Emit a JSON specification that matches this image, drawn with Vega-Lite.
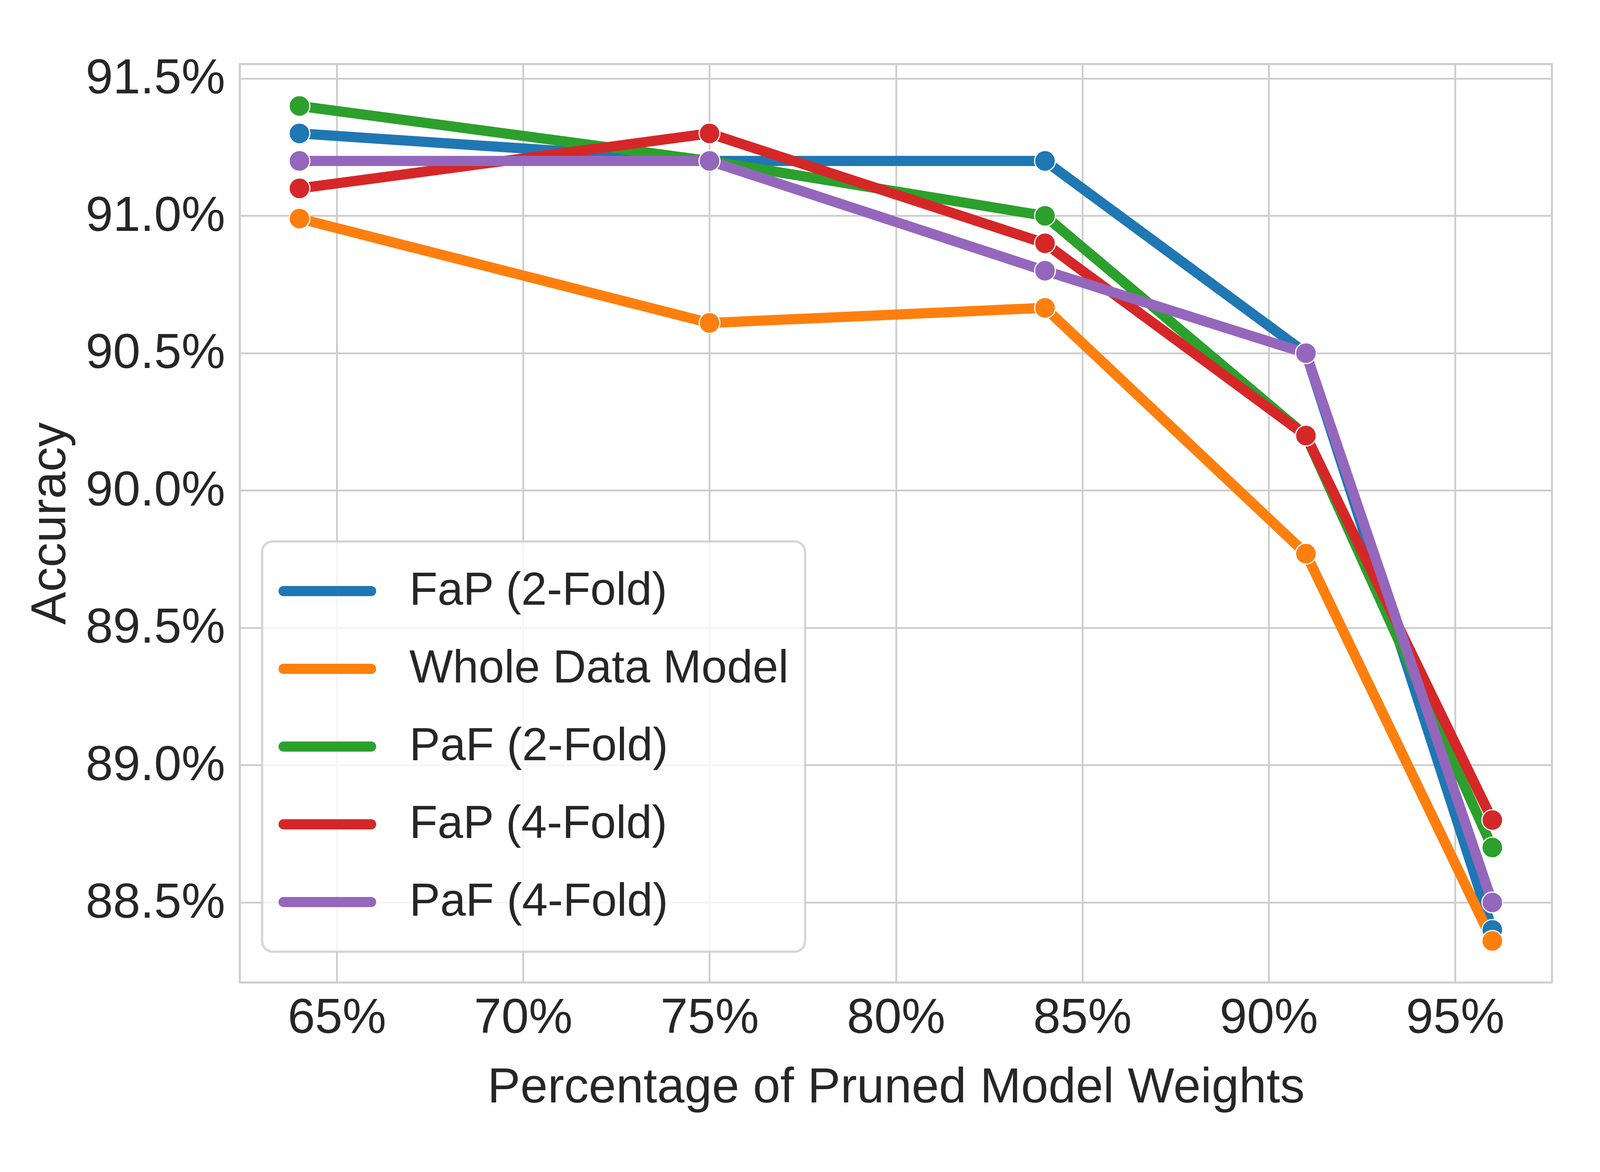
{
  "$schema": "https://vega.github.io/schema/vega-lite/v6.json",
  "width": 3359,
  "height": 2351,
  "autosize": {"type": "none"},
  "padding": {"left": 614, "top": 164, "right": 123, "bottom": 485},
  "background": "white",
  "data": {
    "values": [
      {"pruned": 0.64, "acc": 0.913, "model": "FaP (2-Fold)"},
      {"pruned": 0.75, "acc": 0.912, "model": "FaP (2-Fold)"},
      {"pruned": 0.84, "acc": 0.912, "model": "FaP (2-Fold)"},
      {"pruned": 0.91, "acc": 0.905, "model": "FaP (2-Fold)"},
      {"pruned": 0.96, "acc": 0.884, "model": "FaP (2-Fold)"},
      {"pruned": 0.64, "acc": 0.9099, "model": "Whole Data Model"},
      {"pruned": 0.75, "acc": 0.9061, "model": "Whole Data Model"},
      {"pruned": 0.84, "acc": 0.90665, "model": "Whole Data Model"},
      {"pruned": 0.91, "acc": 0.8977, "model": "Whole Data Model"},
      {"pruned": 0.96, "acc": 0.8836, "model": "Whole Data Model"},
      {"pruned": 0.64, "acc": 0.914, "model": "PaF (2-Fold)"},
      {"pruned": 0.75, "acc": 0.912, "model": "PaF (2-Fold)"},
      {"pruned": 0.84, "acc": 0.91, "model": "PaF (2-Fold)"},
      {"pruned": 0.91, "acc": 0.902, "model": "PaF (2-Fold)"},
      {"pruned": 0.96, "acc": 0.887, "model": "PaF (2-Fold)"},
      {"pruned": 0.64, "acc": 0.911, "model": "FaP (4-Fold)"},
      {"pruned": 0.75, "acc": 0.913, "model": "FaP (4-Fold)"},
      {"pruned": 0.84, "acc": 0.909, "model": "FaP (4-Fold)"},
      {"pruned": 0.91, "acc": 0.902, "model": "FaP (4-Fold)"},
      {"pruned": 0.96, "acc": 0.888, "model": "FaP (4-Fold)"},
      {"pruned": 0.64, "acc": 0.912, "model": "PaF (4-Fold)"},
      {"pruned": 0.75, "acc": 0.912, "model": "PaF (4-Fold)"},
      {"pruned": 0.84, "acc": 0.908, "model": "PaF (4-Fold)"},
      {"pruned": 0.91, "acc": 0.905, "model": "PaF (4-Fold)"},
      {"pruned": 0.96, "acc": 0.885, "model": "PaF (4-Fold)"}
    ]
  },
  "mark": {
    "type": "line",
    "strokeWidth": 26,
    "strokeCap": "round",
    "strokeJoin": "round",
    "point": {"filled": true, "size": 2830, "stroke": "white", "strokeWidth": 3, "opacity": 1}
  },
  "encoding": {
    "x": {
      "field": "pruned",
      "type": "quantitative",
      "scale": {"domain": [0.624, 0.976], "nice": false, "zero": false},
      "axis": {
        "title": "Percentage of Pruned Model Weights",
        "format": ".0%",
        "values": [0.65, 0.7, 0.75, 0.8, 0.85, 0.9, 0.95],
        "labelPadding": 28,
        "titleY": 306,
        "titleBaseline": "alphabetic"
      }
    },
    "y": {
      "field": "acc",
      "type": "quantitative",
      "scale": {"domain": [0.882084, 0.915526], "nice": false, "zero": false},
      "axis": {
        "title": "Accuracy",
        "format": ".1%",
        "values": [0.885, 0.89, 0.895, 0.9, 0.905, 0.91, 0.915],
        "labelPadding": 38,
        "titleX": -448,
        "titleY": 1175.5,
        "titleBaseline": "alphabetic"
      }
    },
    "color": {
      "field": "model",
      "type": "nominal",
      "sort": ["FaP (2-Fold)", "Whole Data Model", "PaF (2-Fold)", "FaP (4-Fold)", "PaF (4-Fold)"],
      "scale": {
        "domain": ["FaP (2-Fold)", "Whole Data Model", "PaF (2-Fold)", "FaP (4-Fold)", "PaF (4-Fold)"],
        "range": ["#1f77b4", "#ff7f0e", "#2ca02c", "#d62728", "#9467bd"]
      },
      "legend": {
        "title": null,
        "orient": "none",
        "legendX": 57,
        "legendY": 1222,
        "padding": 42,
        "rowPadding": 29,
        "symbolType": "stroke",
        "symbolSize": 50176,
        "symbolStrokeWidth": 26,
        "labelOffset": 85,
        "clipHeight": 170,
        "fillColor": "rgba(255,255,255,0.8)",
        "strokeColor": "rgba(204,204,204,0.8)",
        "cornerRadius": 27,
        "encode": {
          "symbols": {"update": {"strokeCap": {"value": "round"}}},
          "legend": {"update": {"strokeWidth": {"value": 6}}}
        }
      }
    }
  },
  "config": {
    "view": {"stroke": "#cccccc", "strokeWidth": 5},
    "axis": {
      "domain": false,
      "ticks": false,
      "grid": true,
      "gridColor": "#cccccc",
      "gridWidth": 4.5,
      "labelFont": "Liberation Sans",
      "labelFontSize": 126,
      "labelColor": "#262626",
      "labelLimit": 2000,
      "titleFont": "Liberation Sans",
      "titleFontSize": 126,
      "titleColor": "#262626",
      "titleFontWeight": "normal",
      "titleLimit": 4000
    },
    "legend": {
      "labelFont": "Liberation Sans",
      "labelFontSize": 118,
      "labelColor": "#262626",
      "labelLimit": 3000
    }
  }
}
